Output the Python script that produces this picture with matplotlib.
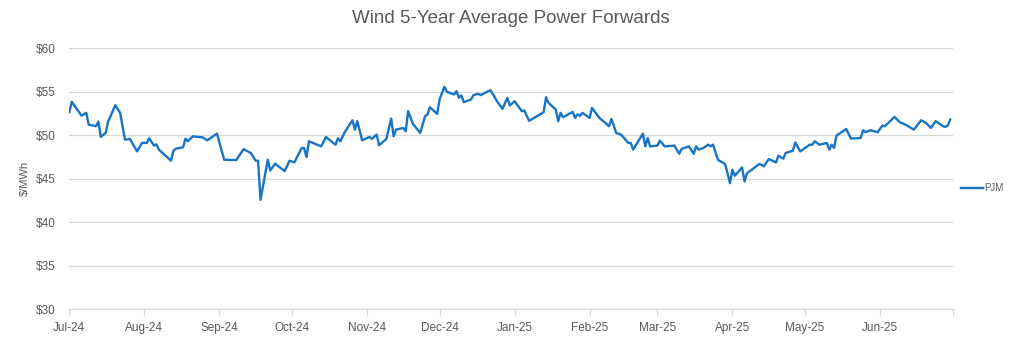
import pandas as pd
import matplotlib.pyplot as plt
import matplotlib.dates as mdates
from matplotlib.ticker import FuncFormatter

plt.rcParams['font.family'] = ['Liberation Sans', 'DejaVu Sans']

# PJM wind 5-year average forward, $/MWh
dates = [
    '2024-07-01', '2024-07-02', '2024-07-06', '2024-07-08', '2024-07-09', '2024-07-12',
    '2024-07-13', '2024-07-14', '2024-07-16', '2024-07-17', '2024-07-20', '2024-07-22',
    '2024-07-24', '2024-07-26', '2024-07-29', '2024-07-31', '2024-08-02', '2024-08-03',
    '2024-08-05', '2024-08-06', '2024-08-07', '2024-08-12', '2024-08-13', '2024-08-14',
    '2024-08-17', '2024-08-18', '2024-08-19', '2024-08-21', '2024-08-25', '2024-08-27',
    '2024-08-31', '2024-09-03', '2024-09-08', '2024-09-11', '2024-09-14', '2024-09-16',
    '2024-09-17', '2024-09-18', '2024-09-21', '2024-09-22', '2024-09-24', '2024-09-28',
    '2024-09-30', '2024-10-02', '2024-10-05', '2024-10-06', '2024-10-07', '2024-10-08',
    '2024-10-13', '2024-10-14', '2024-10-15', '2024-10-19', '2024-10-20', '2024-10-21',
    '2024-10-23', '2024-10-26', '2024-10-27', '2024-10-28', '2024-10-30', '2024-11-02',
    '2024-11-03', '2024-11-05', '2024-11-06', '2024-11-09', '2024-11-11', '2024-11-12',
    '2024-11-13', '2024-11-16', '2024-11-17', '2024-11-18', '2024-11-20', '2024-11-23',
    '2024-11-25', '2024-11-26', '2024-11-27', '2024-11-30', '2024-12-01', '2024-12-03',
    '2024-12-04', '2024-12-07', '2024-12-08', '2024-12-09', '2024-12-10', '2024-12-11',
    '2024-12-14', '2024-12-15', '2024-12-17', '2024-12-18', '2024-12-22', '2024-12-25',
    '2024-12-27', '2024-12-29', '2024-12-30', '2025-01-01', '2025-01-04', '2025-01-05',
    '2025-01-07', '2025-01-13', '2025-01-14', '2025-01-15', '2025-01-18', '2025-01-19',
    '2025-01-20', '2025-01-21', '2025-01-25', '2025-01-26', '2025-01-27', '2025-01-28',
    '2025-01-29', '2025-02-01', '2025-02-02', '2025-02-05', '2025-02-08', '2025-02-09',
    '2025-02-10', '2025-02-12', '2025-02-14', '2025-02-17', '2025-02-18', '2025-02-19',
    '2025-02-23', '2025-02-24', '2025-02-25', '2025-02-26', '2025-03-01', '2025-03-02',
    '2025-03-04', '2025-03-08', '2025-03-10', '2025-03-11', '2025-03-14', '2025-03-16',
    '2025-03-17', '2025-03-18', '2025-03-20', '2025-03-22', '2025-03-23', '2025-03-24',
    '2025-03-26', '2025-03-29', '2025-03-31', '2025-04-01', '2025-04-02', '2025-04-05',
    '2025-04-06', '2025-04-07', '2025-04-09', '2025-04-12', '2025-04-13', '2025-04-14',
    '2025-04-16', '2025-04-19', '2025-04-20', '2025-04-22', '2025-04-23', '2025-04-26',
    '2025-04-27', '2025-04-29', '2025-05-03', '2025-05-04', '2025-05-05', '2025-05-07',
    '2025-05-10', '2025-05-11', '2025-05-12', '2025-05-13', '2025-05-14', '2025-05-18',
    '2025-05-20', '2025-05-24', '2025-05-25', '2025-05-26', '2025-05-28', '2025-05-31',
    '2025-06-02', '2025-06-03', '2025-06-07', '2025-06-09', '2025-06-12', '2025-06-15',
    '2025-06-18', '2025-06-20', '2025-06-22', '2025-06-24', '2025-06-27', '2025-06-28',
    '2025-06-29', '2025-06-30',
]
pjm = [
    52.65, 53.85, 52.27, 52.58, 51.23, 51.04,
    51.58, 49.81, 50.27, 51.54, 53.46, 52.58,
    49.50, 49.58, 48.15, 49.12, 49.12, 49.65,
    48.81, 48.96, 48.35, 47.08, 48.23, 48.46,
    48.62, 49.62, 49.31, 49.88, 49.77, 49.42,
    50.19, 47.19, 47.15, 48.42, 47.96, 47.08,
    47.08, 42.58, 47.19, 45.96, 46.73, 45.88,
    47.08, 46.88, 48.54, 48.54, 47.50, 49.31,
    48.73, 49.19, 49.81, 48.92, 49.65, 49.31,
    50.46, 51.73, 50.65, 51.62, 49.42, 49.81,
    49.58, 50.08, 48.85, 49.58, 51.92, 49.88,
    50.65, 50.85, 50.46, 52.77, 51.31, 50.27,
    52.19, 52.38, 53.23, 52.46, 54.12, 55.58,
    55.00, 54.69, 55.08, 54.31, 54.58, 53.81,
    54.12, 54.62, 54.77, 54.62, 55.19, 53.81,
    53.04, 54.31, 53.42, 53.92, 52.77, 52.85,
    51.66, 52.65, 54.38, 53.73, 52.96, 51.62,
    52.58, 52.08, 52.69, 52.00, 52.42, 52.23,
    52.58, 52.00, 53.15, 52.00, 51.31, 51.04,
    51.88, 50.27, 50.08, 49.12, 49.12, 48.35,
    50.19, 48.73, 49.69, 48.73, 48.81, 49.38,
    48.73, 48.81, 47.88, 48.42, 48.73, 47.88,
    48.73, 48.35, 48.54, 48.92, 48.73, 48.92,
    47.19, 46.69, 44.50, 46.04, 45.35, 46.31,
    44.69, 45.65, 46.04, 46.69, 46.62, 46.42,
    47.27, 46.88, 47.65, 47.31, 47.96, 48.23,
    49.19, 48.15, 48.92, 48.92, 49.31, 48.92,
    49.12, 48.35, 48.92, 48.54, 49.96, 50.73,
    49.62, 49.69, 50.58, 50.35, 50.58, 50.35,
    51.12, 51.04, 52.12, 51.54, 51.15, 50.65,
    51.73, 51.42, 50.85, 51.62, 51.04, 50.96,
    51.12, 51.81,
]

x = pd.to_datetime(dates)
grey = '#595959'
grid = '#d9d9d9'

fig = plt.figure(figsize=(10.24, 3.41), dpi=100)
ax = fig.add_axes([0.0677, 0.093, 0.8626, 0.7654])

ax.plot(x, pjm, color='#1874c4', linewidth=1.7, label='PJM')

x0, x1 = pd.Timestamp('2024-07-01'), pd.Timestamp('2025-07-01')
ax.set_xlim(x0, x1)
ax.set_ylim(30, 60)
ax.set_yticks(range(30, 61, 5))
ax.yaxis.set_major_formatter(FuncFormatter(lambda v, p: f'${v:.0f}'))

# month ticks; the closing tick at the right edge has no label
months = pd.date_range(x0, x1, freq='MS')
ax.set_xticks(months)
ax.set_xticklabels([m.strftime('%b-%y') for m in months[:-1]] + [''])

ax.grid(axis='y', color=grid, linewidth=0.9)
ax.set_axisbelow(True)
for s in ['top', 'right', 'left']:
    ax.spines[s].set_visible(False)
ax.spines['bottom'].set_color(grid)
ax.tick_params(axis='y', length=0, colors=grey, labelsize=8.5, pad=10)
ax.tick_params(axis='x', length=4, color=grid, colors=grey, labelsize=8.5, pad=5)

ax.set_ylabel('$/MWh', color=grey, fontsize=8, labelpad=4)
ax.set_title('Wind 5-Year Average Power Forwards', color=grey, fontsize=13.5, pad=18)

ax.legend(loc='center left', bbox_to_anchor=(1.0, 0.465), frameon=False,
          fontsize=7, labelcolor=grey, handlelength=2.2, handletextpad=0.2)

fig.savefig('out.png', dpi=100)
